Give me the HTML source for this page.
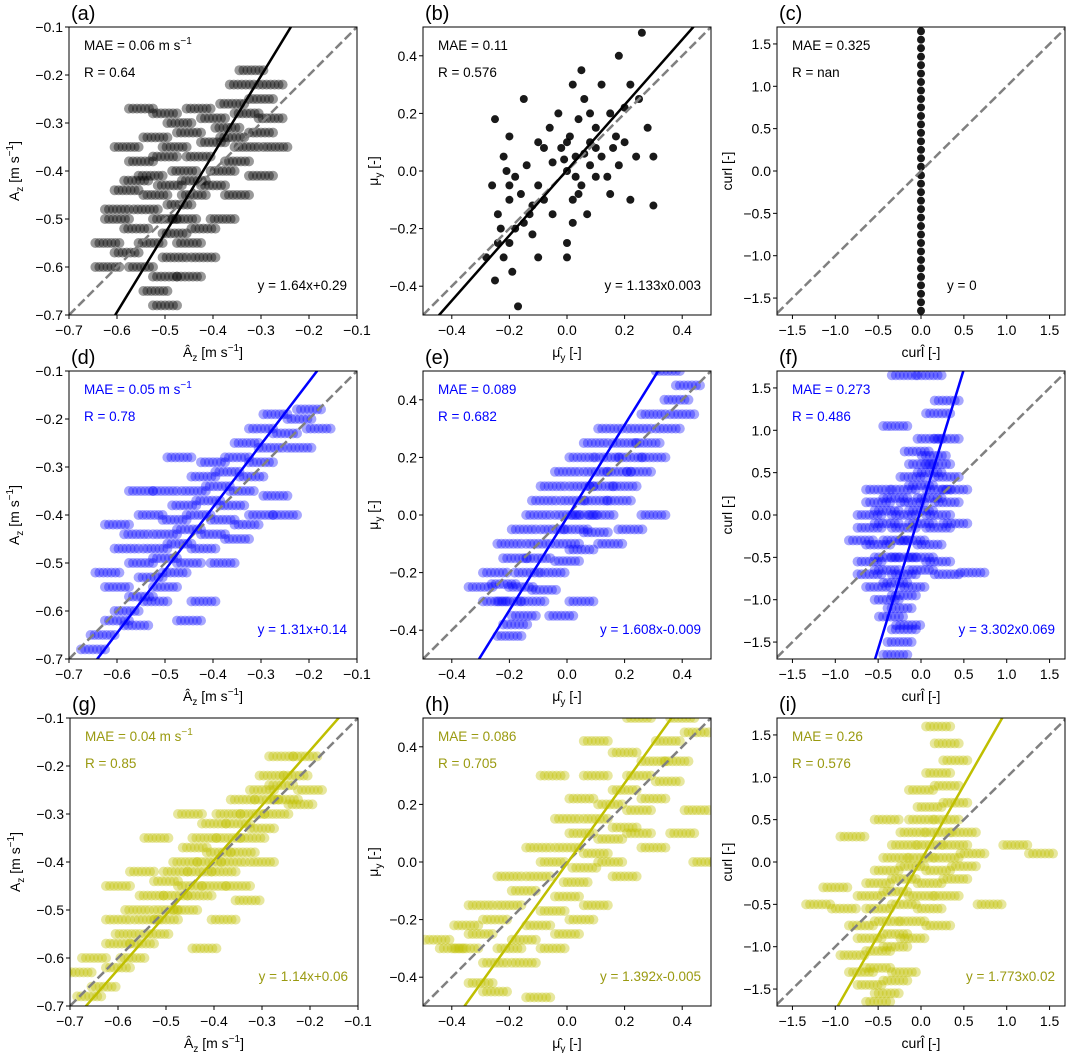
<!DOCTYPE html>
<html><head><meta charset="utf-8"><style>
html,body{margin:0;background:#fff;overflow:hidden;width:1066px;height:1053px;}
svg{display:block;font-family:"Liberation Sans","DejaVu Sans",sans-serif;}
</style></head><body>
<svg id="fig" width="1066" height="1053" viewBox="0 0 1066 1053" xmlns="http://www.w3.org/2000/svg"></svg>
<script>
// ---- data ----
const ptsA=[[-0.52,-0.65],[-0.5,-0.62],[-0.55,-0.6],[-0.48,-0.58],[-0.58,-0.57],[-0.53,-0.55],[-0.45,-0.55],[-0.56,-0.52],[-0.5,-0.5],[-0.42,-0.52],[-0.6,-0.5],[-0.54,-0.48],[-0.47,-0.47],[-0.52,-0.45],[-0.44,-0.45],[-0.58,-0.44],[-0.49,-0.43],[-0.4,-0.43],[-0.53,-0.41],[-0.46,-0.4],[-0.38,-0.4],[-0.55,-0.38],[-0.5,-0.37],[-0.43,-0.37],[-0.35,-0.38],[-0.48,-0.35],[-0.4,-0.34],[-0.33,-0.35],[-0.52,-0.33],[-0.45,-0.32],[-0.37,-0.31],[-0.3,-0.32],[-0.47,-0.3],[-0.4,-0.29],[-0.33,-0.28],[-0.28,-0.29],[-0.43,-0.27],[-0.36,-0.26],[-0.3,-0.25],[-0.5,-0.28],[-0.34,-0.22],[-0.28,-0.22],[-0.32,-0.19],[-0.55,-0.27],[-0.62,-0.55],[-0.6,-0.48],[-0.45,-0.62],[-0.38,-0.5],[-0.42,-0.58],[-0.56,-0.42],[-0.3,-0.41],[-0.27,-0.35],[-0.48,-0.53],[-0.62,-0.6],[-0.35,-0.45],[-0.58,-0.35],[-0.5,-0.68],[-0.46,-0.5],[-0.44,-0.42],[-0.36,-0.33]];
const ptsB=[[-0.25,-0.38],[-0.22,-0.3],[-0.2,-0.25],[-0.18,-0.2],[-0.24,-0.15],[-0.15,-0.18],[-0.2,-0.1],[-0.26,-0.05],[-0.12,-0.12],[-0.18,-0.02],[-0.22,0.05],[-0.1,-0.05],[-0.14,0.02],[-0.2,0.12],[-0.25,0.18],[-0.08,0.08],[-0.15,0.25],[-0.05,-0.15],[0.0,-0.25],[0.02,-0.1],[0.0,0.0],[0.03,0.05],[0.05,-0.05],[0.01,0.12],[0.04,0.18],[0.06,0.25],[0.02,0.3],[0.08,0.1],[0.1,-0.02],[0.12,0.05],[0.1,0.15],[0.15,0.2],[0.18,0.02],[0.2,0.1],[0.22,-0.1],[0.25,0.25],[0.28,0.15],[0.3,0.05],[0.22,0.3],[0.18,0.4],[0.26,0.48],[0.3,-0.12],[0.05,0.35],[-0.03,0.2],[-0.05,0.03],[0.0,-0.3],[-0.1,-0.3],[-0.17,-0.47],[-0.12,-0.22],[0.15,-0.08],[0.07,-0.15],[-0.28,-0.3],[-0.06,0.15],[0.12,0.3],[0.2,0.22],[-0.23,-0.2],[0.03,-0.02],[0.08,0.02],[-0.02,0.08],[0.17,0.12],[-0.19,-0.35],[-0.21,0.0],[0.06,0.06],[0.14,-0.02],[-0.08,-0.1],[0.24,0.05],[-0.16,-0.08],[0.1,0.08],[0.04,-0.08],[-0.01,0.04],[-0.2,-0.05],[-0.1,0.1],[0.02,-0.18],[0.16,0.08],[-0.24,-0.25],[0.08,0.2],[-0.13,-0.15],[0.0,0.1]];
const ptsCy=[-1.65,-1.55,-1.45,-1.35,-1.25,-1.15,-1.05,-0.95,-0.85,-0.75,-0.65,-0.55,-0.45,-0.35,-0.25,-0.15,-0.05,0.05,0.15,0.25,0.35,0.45,0.55,0.65,0.75,0.85,0.95,1.05,1.15,1.25,1.35,1.45,1.55,1.65];
const ptsD=[[-0.65,-0.68],[-0.63,-0.65],[-0.6,-0.62],[-0.58,-0.6],[-0.56,-0.63],[-0.55,-0.57],[-0.52,-0.58],[-0.6,-0.55],[-0.53,-0.53],[-0.5,-0.55],[-0.48,-0.52],[-0.55,-0.5],[-0.5,-0.49],[-0.45,-0.5],[-0.52,-0.47],[-0.47,-0.46],[-0.42,-0.47],[-0.5,-0.44],[-0.45,-0.43],[-0.4,-0.44],[-0.48,-0.41],[-0.43,-0.4],[-0.38,-0.41],[-0.46,-0.38],[-0.41,-0.37],[-0.36,-0.38],[-0.44,-0.35],[-0.39,-0.34],[-0.34,-0.35],[-0.42,-0.32],[-0.37,-0.31],[-0.32,-0.32],[-0.4,-0.29],[-0.35,-0.28],[-0.3,-0.29],[-0.33,-0.25],[-0.28,-0.26],[-0.3,-0.22],[-0.25,-0.23],[-0.27,-0.19],[-0.22,-0.2],[-0.2,-0.18],[-0.62,-0.52],[-0.58,-0.47],[-0.56,-0.44],[-0.6,-0.42],[-0.53,-0.4],[-0.5,-0.35],[-0.38,-0.5],[-0.35,-0.45],[-0.3,-0.4],[-0.27,-0.36],[-0.42,-0.58],[-0.45,-0.62],[-0.22,-0.26],[-0.18,-0.22],[-0.55,-0.35],[-0.47,-0.28],[-0.33,-0.42],[-0.25,-0.4]];
const ptsE=[[-0.2,-0.42],[-0.18,-0.38],[-0.15,-0.35],[-0.2,-0.3],[-0.12,-0.3],[-0.22,-0.24],[-0.16,-0.25],[-0.08,-0.26],[-0.25,-0.2],[-0.14,-0.2],[-0.05,-0.2],[-0.18,-0.15],[-0.1,-0.15],[0.0,-0.16],[-0.2,-0.1],[-0.1,-0.1],[0.0,-0.1],[0.05,-0.12],[-0.15,-0.05],[-0.05,-0.05],[0.03,-0.05],[0.1,-0.06],[-0.1,0.0],[0.0,0.0],[0.06,0.0],[0.12,0.0],[-0.08,0.05],[0.02,0.05],[0.1,0.05],[0.18,0.05],[-0.05,0.1],[0.05,0.1],[0.12,0.1],[0.2,0.1],[0.0,0.15],[0.1,0.15],[0.18,0.15],[0.25,0.15],[0.05,0.2],[0.14,0.2],[0.22,0.2],[0.3,0.2],[0.1,0.25],[0.2,0.25],[0.28,0.25],[0.15,0.3],[0.25,0.3],[0.35,0.3],[0.3,0.35],[0.4,0.35],[0.38,0.4],[0.42,0.45],[0.35,0.5],[-0.25,-0.3],[-0.3,-0.25],[0.15,-0.1],[0.22,-0.05],[0.05,-0.3],[-0.02,-0.35],[0.3,0.0]];
const ptsF=[[-0.3,-1.65],[-0.25,-1.5],[-0.2,-1.35],[-0.35,-1.2],[-0.15,-1.3],[-0.25,-1.1],[-0.4,-1.0],[-0.2,-0.95],[-0.5,-0.85],[-0.3,-0.8],[-0.1,-0.85],[-0.6,-0.7],[-0.4,-0.65],[-0.2,-0.7],[0.0,-0.65],[0.3,-0.7],[0.6,-0.68],[-0.6,-0.55],[-0.4,-0.5],[-0.2,-0.5],[0.0,-0.5],[0.2,-0.55],[-0.7,-0.3],[-0.5,-0.35],[-0.3,-0.3],[-0.1,-0.3],[0.1,-0.35],[-0.6,-0.15],[-0.4,-0.1],[-0.2,-0.15],[0.0,-0.1],[0.2,-0.15],[0.4,-0.1],[-0.6,0.0],[-0.4,0.05],[-0.2,0.0],[0.0,0.05],[0.2,0.0],[-0.5,0.15],[-0.3,0.2],[-0.1,0.15],[0.1,0.2],[0.3,0.15],[-0.5,0.3],[-0.2,0.3],[0.0,0.35],[0.2,0.3],[0.4,0.3],[-0.1,0.45],[0.1,0.5],[0.3,0.45],[0.0,0.6],[0.2,0.6],[-0.05,0.75],[0.15,0.7],[0.1,0.9],[0.3,0.9],[-0.3,1.05],[0.2,1.2],[0.3,1.35],[-0.2,1.65],[0.1,1.65]];
const ptsG=[[-0.66,-0.68],[-0.63,-0.66],[-0.68,-0.63],[-0.6,-0.62],[-0.65,-0.6],[-0.57,-0.6],[-0.6,-0.57],[-0.55,-0.57],[-0.58,-0.55],[-0.52,-0.55],[-0.6,-0.52],[-0.54,-0.52],[-0.5,-0.52],[-0.56,-0.5],[-0.5,-0.5],[-0.46,-0.5],[-0.53,-0.47],[-0.48,-0.47],[-0.43,-0.47],[-0.5,-0.44],[-0.45,-0.45],[-0.4,-0.45],[-0.48,-0.42],[-0.43,-0.42],[-0.38,-0.42],[-0.46,-0.4],[-0.41,-0.4],[-0.36,-0.4],[-0.44,-0.37],[-0.39,-0.38],[-0.34,-0.38],[-0.42,-0.35],[-0.37,-0.35],[-0.32,-0.35],[-0.4,-0.32],[-0.35,-0.32],[-0.3,-0.33],[-0.37,-0.3],[-0.32,-0.3],[-0.27,-0.3],[-0.34,-0.27],[-0.29,-0.27],[-0.25,-0.27],[-0.3,-0.25],[-0.26,-0.24],[-0.28,-0.22],[-0.23,-0.22],[-0.26,-0.18],[-0.21,-0.18],[-0.55,-0.42],[-0.6,-0.45],[-0.52,-0.35],[-0.45,-0.3],[-0.35,-0.45],[-0.3,-0.4],[-0.42,-0.58],[-0.38,-0.52],[-0.33,-0.48],[-0.22,-0.28],[-0.2,-0.25]];
const ptsH=[[-0.3,-0.42],[-0.25,-0.35],[-0.35,-0.3],[-0.2,-0.3],[-0.3,-0.25],[-0.15,-0.27],[-0.25,-0.2],[-0.1,-0.22],[-0.2,-0.15],[-0.05,-0.17],[-0.15,-0.1],[0.0,-0.12],[-0.1,-0.05],[0.03,-0.07],[-0.05,0.0],[0.06,-0.02],[0.0,0.05],[0.1,0.03],[0.05,0.1],[0.15,0.08],[0.1,0.15],[0.2,0.12],[0.15,0.2],[0.25,0.18],[0.2,0.25],[0.3,0.22],[0.25,0.3],[0.35,0.28],[0.3,0.35],[0.38,0.35],[0.35,0.42],[0.45,0.45],[0.4,0.5],[0.25,0.5],[-0.4,-0.3],[-0.45,-0.27],[-0.35,-0.22],[-0.3,-0.15],[-0.2,-0.05],[-0.1,0.05],[0.0,0.15],[0.05,0.22],[0.1,0.3],[0.0,-0.25],[0.1,-0.15],[0.2,-0.05],[0.3,0.05],[0.4,0.1],[0.45,0.18],[-0.15,-0.35],[-0.05,-0.3],[0.05,-0.2],[0.15,0.0],[0.25,0.1],[-0.25,-0.45],[-0.1,-0.47],[0.2,0.38],[0.1,0.42],[-0.05,0.3],[0.48,0.0]];
const ptsI=[[-0.5,-1.65],[-0.4,-1.55],[-0.6,-1.45],[-0.3,-1.4],[-0.7,-1.3],[-0.5,-1.25],[-0.2,-1.3],[-0.8,-1.1],[-0.5,-1.05],[-0.3,-1.0],[-0.6,-0.9],[-0.3,-0.85],[-0.1,-0.9],[-0.7,-0.75],[-0.4,-0.7],[-0.1,-0.7],[0.2,-0.75],[-0.9,-0.55],[-0.5,-0.55],[-0.2,-0.5],[0.1,-0.55],[-0.6,-0.4],[-0.3,-0.35],[0.0,-0.4],[0.3,-0.4],[-0.5,-0.25],[-0.2,-0.2],[0.1,-0.25],[0.4,-0.2],[-0.4,-0.1],[-0.1,-0.05],[0.2,-0.1],[0.5,-0.05],[-0.3,0.05],[0.0,0.05],[0.3,0.05],[0.6,0.1],[-0.2,0.2],[0.1,0.2],[0.4,0.2],[-0.1,0.35],[0.2,0.35],[0.5,0.35],[0.0,0.5],[0.3,0.5],[0.1,0.65],[0.4,0.7],[0.0,0.85],[0.3,0.9],[0.2,1.05],[0.4,1.2],[0.3,1.4],[0.2,1.6],[-1.2,-0.5],[-1.0,-0.3],[1.1,0.2],[1.4,0.1],[-0.8,0.3],[0.8,-0.5],[-0.4,0.5]];

const panels=[
 {id:'a',x0:69,y0:27,lim:[-0.7,-0.1],yl:[-0.7,-0.1],ticks:[-0.7,-0.6,-0.5,-0.4,-0.3,-0.2,-0.1],pts:ptsA,col:'#000',tcol:'#000',op:0.4,streak:true,fit:[1.64,0.29],mae:'MAE = 0.06 m s',unit:true,r:'R = 0.64',eq:'y = 1.64x+0.29',ax:'A'},
 {id:'b',x0:423,y0:27,lim:[-0.5,0.5],yl:[-0.5,0.5],ticks:[-0.4,-0.2,0,0.2,0.4],pts:ptsB,col:'#000',tcol:'#000',op:0.9,streak:false,fit:[1.133,0.003],mae:'MAE = 0.11',r:'R = 0.576',eq:'y = 1.133x0.003',ax:'M'},
 {id:'c',x0:777,y0:27,lim:[-1.68,1.68],yl:[-1.7,1.7],ticks:[-1.5,-1,-0.5,0,0.5,1,1.5],pts:ptsCy.map(v=>[0,v]),col:'#000',tcol:'#000',op:0.9,streak:false,fit:null,mae:'MAE = 0.325',r:'R = nan',eq:'y = 0',ax:'C'},
 {id:'d',x0:69,y0:371,lim:[-0.7,-0.1],yl:[-0.7,-0.1],ticks:[-0.7,-0.6,-0.5,-0.4,-0.3,-0.2,-0.1],pts:ptsD,col:'#0000ff',tcol:'#0000ff',op:0.35,streak:true,fit:[1.31,0.14],mae:'MAE = 0.05 m s',unit:true,r:'R = 0.78',eq:'y = 1.31x+0.14',ax:'A'},
 {id:'e',x0:423,y0:371,lim:[-0.5,0.5],yl:[-0.5,0.5],ticks:[-0.4,-0.2,0,0.2,0.4],pts:ptsE,col:'#0000ff',tcol:'#0000ff',op:0.35,streak:true,fit:[1.608,-0.009],mae:'MAE = 0.089',r:'R = 0.682',eq:'y = 1.608x-0.009',ax:'M'},
 {id:'f',x0:777,y0:371,lim:[-1.68,1.68],yl:[-1.7,1.7],ticks:[-1.5,-1,-0.5,0,0.5,1,1.5],pts:ptsF,col:'#0000ff',tcol:'#0000ff',op:0.35,streak:true,fit:[3.302,0.069],mae:'MAE = 0.273',r:'R = 0.486',eq:'y = 3.302x0.069',ax:'C'},
 {id:'g',x0:70,y0:718,lim:[-0.7,-0.1],yl:[-0.7,-0.1],ticks:[-0.7,-0.6,-0.5,-0.4,-0.3,-0.2,-0.1],pts:ptsG,col:'#bfbf00',tcol:'#9a9a10',op:0.38,streak:true,fit:[1.14,0.06],mae:'MAE = 0.04 m s',unit:true,r:'R = 0.85',eq:'y = 1.14x+0.06',ax:'A'},
 {id:'h',x0:423,y0:718,lim:[-0.5,0.5],yl:[-0.5,0.5],ticks:[-0.4,-0.2,0,0.2,0.4],pts:ptsH,col:'#bfbf00',tcol:'#9a9a10',op:0.38,streak:true,fit:[1.392,-0.005],mae:'MAE = 0.086',r:'R = 0.705',eq:'y = 1.392x-0.005',ax:'M'},
 {id:'i',x0:777,y0:718,lim:[-1.68,1.68],yl:[-1.7,1.7],ticks:[-1.5,-1,-0.5,0,0.5,1,1.5],pts:ptsI,col:'#bfbf00',tcol:'#9a9a10',op:0.38,streak:true,fit:[1.773,0.02],mae:'MAE = 0.26',r:'R = 0.576',eq:'y = 1.773x0.02',ax:'C'}
];
const W=288,H=288,NS='http://www.w3.org/2000/svg';
const svg=document.getElementById('fig');
function el(t,a,p){const e=document.createElementNS(NS,t);for(const k in a)e.setAttribute(k,a[k]);(p||svg).appendChild(e);return e;}
function fmt(v){let s=Math.abs(v)<1e-9?'0.0':v.toFixed(1);return s.replace('-','\u2212');}
panels.forEach(p=>{
 const g=el('g',{});
 
 
 const sx=v=>p.x0+(v-p.lim[0])/(p.lim[1]-p.lim[0])*W;
 const sy=v=>p.y0+H-(v-p.yl[0])/(p.yl[1]-p.yl[0])*H;
 const cid='clip'+p.id;
 const cp=el('clipPath',{id:cid},g);el('rect',{x:p.x0,y:p.y0,width:W,height:H},cp);
 const pg=el('g',{'clip-path':'url(#'+cid+')'},g);
 
 
 const offs=p.streak?[-12,-8,-4,0,4,8,12]:[0];
 p.pts.forEach(d=>{offs.forEach(o=>{
  const c=el('circle',{cx:sx(d[0])+o,cy:sy(d[1]),r:p.streak?5:4,fill:p.col,'fill-opacity':p.op},pg);
  
  
 });});
 const idl=el('line',{x1:sx(p.lim[0]),y1:sy(p.lim[0]),x2:sx(p.lim[1]),y2:sy(p.lim[1]),stroke:'#808080','stroke-width':2.5,'stroke-dasharray':'9,4'},pg);
 
 
 if(p.fit){const m=p.fit[0],b=p.fit[1];
  const fl=el('line',{x1:sx(p.lim[0]),y1:sy(m*p.lim[0]+b),x2:sx(p.lim[1]),y2:sy(m*p.lim[1]+b),stroke:p.col,'stroke-width':2.5},pg);
  
  }
 const fr=el('rect',{x:p.x0,y:p.y0,width:W,height:H,fill:'none',stroke:'#000','stroke-width':1},g);
 
 
 p.ticks.forEach(t=>{
  const X=sx(t);el('line',{x1:X,y1:p.y0+H,x2:X,y2:p.y0+H+4,stroke:'#000'},g);
  const tx=el('text',{x:X,y:p.y0+H+20,'font-size':14,'text-anchor':'middle'},g);tx.textContent=fmt(t);
  
  
  const Y=sy(t);el('line',{x1:p.x0-4,y1:Y,x2:p.x0,y2:Y,stroke:'#000'},g);
  const ty=el('text',{x:p.x0-6,y:Y+5,'font-size':14,'text-anchor':'end'},g);ty.textContent=fmt(t);
  
  
 });
 const pl=el('text',{x:p.x0+2,y:p.y0-7,'font-size':20},g);pl.textContent='('+p.id+')';
 
 
 const t1=el('text',{x:p.x0+15,y:p.y0+23,'font-size':13.5,fill:p.tcol},g);
 
 
 if(p.unit){t1.innerHTML=p.mae+'<tspan dy="-6" font-size="10">\u22121</tspan>';}else t1.textContent=p.mae;
 const t2=el('text',{x:p.x0+15,y:p.y0+50,'font-size':13.5,fill:p.tcol},g);t2.textContent=p.r;
 
 
 const t3=el('text',{x:p.x0+H-10,y:p.y0+H-25,'font-size':13.5,fill:p.tcol,'text-anchor':'end'},g);t3.textContent=p.eq;
 if(p.id==='c'){t3.setAttribute('x',p.x0+170);t3.setAttribute('text-anchor','start');}
 
 
 const xl=el('text',{x:p.x0+W/2,y:p.y0+H+42,'font-size':14,'text-anchor':'middle'},g);
 const ylab=el('text',{transform:'translate('+(p.x0-50)+','+(p.y0+H/2)+') rotate(-90)','font-size':14,'text-anchor':'middle'},g);
 if(p.ax==='A'){xl.innerHTML='\u00C2<tspan dy="4" font-size="10">z</tspan><tspan dy="-4"> [m s</tspan><tspan dy="-6" font-size="10">\u22121</tspan><tspan dy="6">]</tspan>';
  ylab.innerHTML='A<tspan dy="4" font-size="10">z</tspan><tspan dy="-4"> [m s</tspan><tspan dy="-6" font-size="10">\u22121</tspan><tspan dy="6">]</tspan>';}
 else if(p.ax==='M'){xl.innerHTML='\u03BC\u0302<tspan dy="4" font-size="10">y</tspan><tspan dy="-4"> [-]</tspan>';
  ylab.innerHTML='\u03BC<tspan dy="4" font-size="10">y</tspan><tspan dy="-4"> [-]</tspan>';ylab.setAttribute('transform','translate('+(p.x0-45)+','+(p.y0+H/2)+') rotate(-90)');}
 else {xl.textContent='cur\u006C\u0302 [-]';ylab.textContent='curl [-]';ylab.setAttribute('transform','translate('+(p.x0-45)+','+(p.y0+H/2)+') rotate(-90)');}
 
 
 
 
});
</script>
</body></html>
